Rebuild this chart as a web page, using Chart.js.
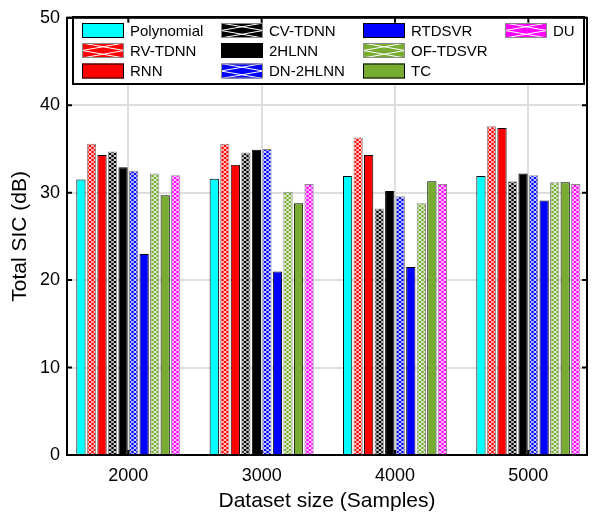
<!DOCTYPE html>
<html>
<head>
<meta charset="utf-8">
<script src="https://cdn.jsdelivr.net/npm/chart.js@4"></script>
<style>
  html, body { margin: 0; padding: 0; background: #fff; }
  #wrap { width: 592px; height: 516px; }
</style>
</head>
<body>
<div id="wrap"><canvas id="sicChart"></canvas></div>
<script>
// dados
const categories = ["2000", "3000", "4000", "5000"];
const polynomial = [31.5, 31.6, 31.9, 31.9];
const rvTdnn = [35.6, 35.6, 36.3, 37.6];
const rnn = [34.3, 33.2, 34.3, 37.4];
const cvTdnn = [34.7, 34.6, 28.2, 31.3];
const hlnn2 = [32.9, 34.9, 30.2, 32.2];
const dn2hlnn = [32.5, 35.0, 29.6, 32.0];
const rtdsvr = [23.0, 21.0, 21.5, 29.1];
const ofTdsvr = [32.2, 30.1, 28.8, 31.2];
const tc = [29.7, 28.8, 31.3, 31.2];
const du = [32.0, 31.0, 31.0, 31.0];
const yTicks = [0, 10, 20, 30, 40, 50];

const FONT = "'Liberation Sans', Arial, Helvetica, sans-serif";
const canvas = document.getElementById("sicChart");
const ctx = canvas.getContext("2d");

// padrao cruzado branco para as barras hachuradas
function hatch(color) {
  const c = document.createElement("canvas");
  c.width = 5;
  c.height = 4;
  const g = c.getContext("2d");
  g.fillStyle = color;
  g.fillRect(0, 0, 5, 4);
  g.strokeStyle = "#fff";
  g.lineWidth = 0.9;
  g.beginPath();
  g.moveTo(0, 0); g.lineTo(5, 4);
  g.moveTo(0, 4); g.lineTo(5, 0);
  g.stroke();
  return ctx.createPattern(c, "repeat");
}

function serie(label, data, color, hatched) {
  return {
    label: label,
    data: data,
    swatch: color,
    hatched: hatched,
    backgroundColor: hatched ? hatch(color) : color,
    borderColor: hatched ? "#8a8a8a" : "#000",
    borderWidth: 1,
    categoryPercentage: 0.79,
    barPercentage: 0.88,
  };
}

const green = "#77AC30";
const datasets = [
  serie("Polynomial", polynomial, "#00FFFF", false),
  serie("RV-TDNN", rvTdnn, "#FF0000", true),
  serie("RNN", rnn, "#FF0000", false),
  serie("CV-TDNN", cvTdnn, "#000000", true),
  serie("2HLNN", hlnn2, "#000000", false),
  serie("DN-2HLNN", dn2hlnn, "#0000FF", true),
  serie("RTDSVR", rtdsvr, "#0000FF", false),
  serie("OF-TDSVR", ofTdsvr, green, true),
  serie("TC", tc, green, false),
  serie("DU", du, "#FF00FF", true),
];

// legenda em colunas, desenhada a mao
const legendCols = [82, 221, 363, 505];
const legendRows = [30.5, 50.5, 71];

const frame = {
  id: "frame",
  afterDatasetsDraw(chart) {
    const c = chart.ctx;
    c.save();
    c.fillStyle = "#fff";
    c.fillRect(73, 17, 511, 67);
    c.strokeStyle = "#000";
    c.lineWidth = 2;
    c.strokeRect(73, 17, 511, 67);
    c.font = "15px " + FONT;
    c.textBaseline = "middle";
    c.textAlign = "left";
    chart.data.datasets.forEach((ds, i) => {
      const x = legendCols[Math.floor(i / 3)];
      const yc = legendRows[i % 3];
      const w = 42, h = 15, y = yc - h / 2;
      c.fillStyle = ds.swatch;
      c.fillRect(x, y, w, h);
      if (ds.hatched) {
        c.save();
        c.beginPath();
        c.rect(x, y, w, h);
        c.clip();
        c.strokeStyle = "#fff";
        c.lineWidth = 1;
        c.beginPath();
        for (let k = -1; k <= 2; k++) {
          c.moveTo(x, y + k * h / 2);
          c.lineTo(x + w, y + (k + 1) * h / 2);
          c.moveTo(x, y + (k + 1) * h / 2);
          c.lineTo(x + w, y + k * h / 2);
        }
        c.stroke();
        c.restore();
      }
      c.strokeStyle = ds.hatched ? "#8a8a8a" : "#000";
      c.lineWidth = 1;
      c.strokeRect(x + 0.5, y + 0.5, w - 1, h - 1);
      c.fillStyle = "#000";
      c.fillText(ds.label, x + 48, yc + 1);
    });
    c.restore();
  },
  afterDraw(chart) {
    const c = chart.ctx;
    const a = chart.chartArea;
    const xs = chart.scales.x, ys = chart.scales.y;
    c.save();
    c.strokeStyle = "#000";
    c.lineWidth = 2;
    c.strokeRect(a.left, a.top, a.right - a.left, a.bottom - a.top);
    c.beginPath();
    yTicks.forEach(v => {
      const y = ys.getPixelForValue(v);
      c.moveTo(a.left, y); c.lineTo(a.left + 5, y);
      c.moveTo(a.right, y); c.lineTo(a.right - 5, y);
    });
    categories.forEach((_, i) => {
      const x = xs.getPixelForValue(i + 1);
      c.moveTo(x, a.bottom); c.lineTo(x, a.bottom - 5);
      c.moveTo(x, a.top); c.lineTo(x, a.top + 5);
    });
    c.stroke();
    c.restore();
  },
};

new Chart(ctx, {
  type: "bar",
  data: { labels: [1, 2, 3, 4], datasets: datasets },
  options: {
    responsive: true,
    maintainAspectRatio: false,
    animation: false,
    layout: { padding: { top: 12, right: 5, bottom: 0, left: 0 } },
    plugins: { legend: { display: false }, tooltip: { enabled: false } },
    scales: {
      x: {
        type: "linear",
        min: 0.54,
        max: 4.44,
        offset: false,
        afterBuildTicks: s => { s.ticks = categories.map((_, i) => ({ value: i + 1 })); },
        afterFit: s => { s.height = 61; },
        ticks: {
          callback: v => categories[v - 1],
          color: "#000",
          font: { family: FONT, size: 18 },
          padding: 10,
          maxRotation: 0,
        },
        grid: { offset: false, color: "#dedede", lineWidth: 2, drawTicks: false },
        border: { display: false },
        title: {
          display: true,
          text: "Dataset size (Samples)",
          color: "#000",
          font: { family: FONT, size: 21 },
          padding: { top: 0, bottom: 2 },
        },
      },
      y: {
        min: 0,
        max: 50,
        afterBuildTicks: s => { s.ticks = yTicks.map(v => ({ value: v })); },
        afterFit: s => { s.width = 67; },
        ticks: {
          color: "#000",
          font: { family: FONT, size: 18 },
          padding: 7,
        },
        grid: { color: "#dedede", lineWidth: 2, drawTicks: false },
        border: { display: false },
        title: {
          display: true,
          text: "Total SIC (dB)",
          color: "#000",
          font: { family: FONT, size: 21 },
          padding: { top: 8, bottom: 0 },
        },
      },
    },
  },
  plugins: [frame],
});
</script>
</body>
</html>
